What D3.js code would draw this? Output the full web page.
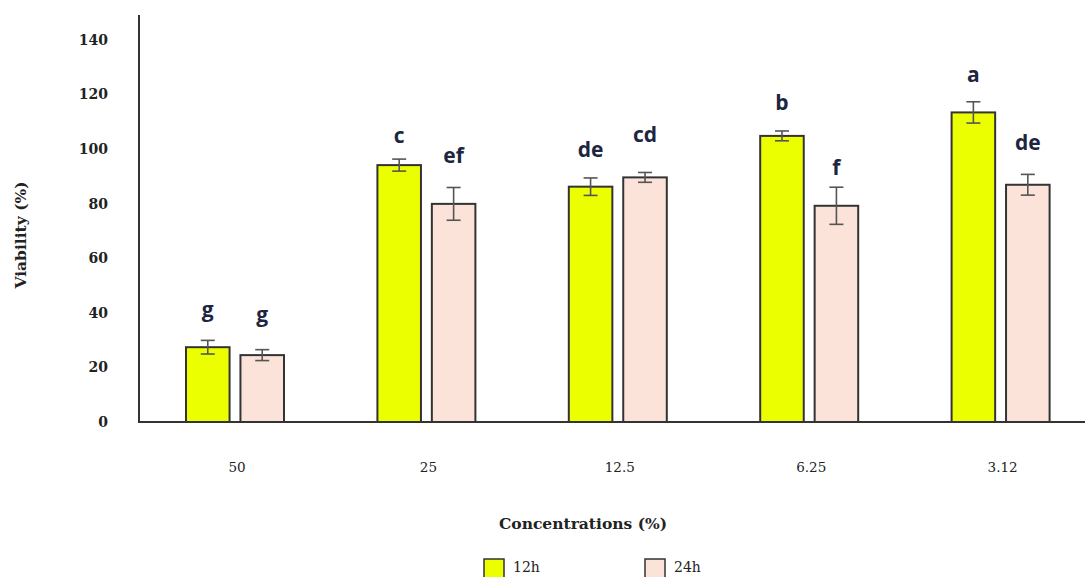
<!DOCTYPE html>
<html>
<head>
<meta charset="utf-8">
<script src="https://cdn.jsdelivr.net/npm/d3@7"></script>
<style>
  html, body { margin: 0; padding: 0; background: #fff; }
  svg { display: block; }
</style>
</head>
<body>
<svg id="chart" width="1085" height="577"></svg>
<script>
// ---- data ----
const categories = ["50", "25", "12.5", "6.25", "3.12"];
const seriesNames = ["12h", "24h"];
const values12h = [27.4, 94.1, 86.2, 104.8, 113.4];
const values24h = [24.5, 79.9, 89.6, 79.2, 86.9];
const errors12h = [2.5, 2.2, 3.2, 1.8, 3.9];
const errors24h = [2.0, 6.0, 1.8, 6.8, 3.8];
const letters12h = ["g", "c", "de", "b", "a"];
const letters24h = ["g", "ef", "cd", "f", "de"];
const letterAt12h = [38.5, 102.2, 97.1, 114.3, 124.5];
const letterAt24h = [36.6, 94.9, 102.6, 90.5, 99.6];
const yTicks = [0, 20, 40, 60, 80, 100, 120, 140];

// ---- layout ----
const svg = d3.select("#chart");
const colors = { "12h": "#ecff00", "24h": "#fbe3da" };
const axisColor = "#333";
const serif = "'DejaVu Serif', 'Liberation Serif', serif";
const sans = "'Open Sans', 'Noto Sans', sans-serif";

const y = d3.scaleLinear().domain([0, 140]).range([422, 39.8]);
const x0 = d3.scaleBand().domain(categories).range([139, 1096.6])
  .paddingInner(0.488).paddingOuter(0.2456);
const x1 = d3.scaleBand().domain(seriesNames).range([0, x0.bandwidth()])
  .paddingInner(0.2);

const rows = categories.map((c, i) => ({
  cat: c,
  items: [
    { s: "12h", v: values12h[i], e: errors12h[i], l: letters12h[i], la: letterAt12h[i] },
    { s: "24h", v: values24h[i], e: errors24h[i], l: letters24h[i], la: letterAt24h[i] }
  ]
}));

// y axis tick labels
const yAxis = d3.axisLeft(y).tickValues(yTicks).tickSize(0).tickPadding(31);
const yg = svg.append("g").attr("transform", "translate(139,0)").call(yAxis);
yg.select(".domain").remove();
yg.selectAll("text").attr("font-family", serif).attr("font-size", 14)
  .attr("font-weight", "bold").attr("fill", "#222");

// bars
const groups = svg.selectAll("g.grp").data(rows).join("g")
  .attr("class", "grp").attr("transform", d => `translate(${x0(d.cat)},0)`);

groups.selectAll("rect").data(d => d.items).join("rect")
  .attr("x", d => x1(d.s)).attr("width", x1.bandwidth())
  .attr("y", d => y(d.v)).attr("height", d => y(0) - y(d.v))
  .attr("fill", d => colors[d.s]).attr("stroke", axisColor).attr("stroke-width", 2);

// error bars
const eb = groups.selectAll("g.err").data(d => d.items).join("g").attr("class", "err")
  .attr("stroke", "#555").attr("stroke-width", 1.6);
eb.append("line")
  .attr("x1", d => x1(d.s) + x1.bandwidth() / 2).attr("x2", d => x1(d.s) + x1.bandwidth() / 2)
  .attr("y1", d => y(d.v + d.e)).attr("y2", d => y(d.v - d.e));
eb.append("line")
  .attr("x1", d => x1(d.s) + x1.bandwidth() / 2 - 7).attr("x2", d => x1(d.s) + x1.bandwidth() / 2 + 7)
  .attr("y1", d => y(d.v + d.e)).attr("y2", d => y(d.v + d.e));
eb.append("line")
  .attr("x1", d => x1(d.s) + x1.bandwidth() / 2 - 7).attr("x2", d => x1(d.s) + x1.bandwidth() / 2 + 7)
  .attr("y1", d => y(d.v - d.e)).attr("y2", d => y(d.v - d.e));

// letters
groups.selectAll("text.letter").data(d => d.items).join("text").attr("class", "letter")
  .attr("x", d => x1(d.s) + x1.bandwidth() / 2).attr("y", d => y(d.la))
  .attr("text-anchor", "middle").attr("font-family", sans).attr("font-weight", "bold")
  .attr("font-size", 21).attr("fill", "#1c2640").text(d => d.l);

// axes lines
svg.append("line").attr("x1", 139).attr("x2", 139).attr("y1", 15).attr("y2", 423)
  .attr("stroke", axisColor).attr("stroke-width", 2);
svg.append("line").attr("x1", 138).attr("x2", 1085).attr("y1", 422).attr("y2", 422)
  .attr("stroke", axisColor).attr("stroke-width", 2);

// category labels
svg.selectAll("text.cat").data(categories).join("text").attr("class", "cat")
  .attr("x", d => x0(d) + x0.bandwidth() / 2 + 2).attr("y", 472)
  .attr("text-anchor", "middle").attr("font-family", serif).attr("font-size", 13.5)
  .attr("fill", "#222").text(d => d);

// axis titles
svg.append("text").attr("transform", "translate(26,235) rotate(-90)")
  .attr("text-anchor", "middle").attr("font-family", serif).attr("font-weight", "bold")
  .attr("font-size", 15.5).attr("fill", "#222").text("Viability (%)");
svg.append("text").attr("x", 583).attr("y", 529)
  .attr("text-anchor", "middle").attr("font-family", serif).attr("font-weight", "bold")
  .attr("font-size", 15.5).attr("fill", "#222").text("Concentrations (%)");

// legend
const legX = [484, 645];
const leg = svg.selectAll("g.leg").data(seriesNames).join("g").attr("class", "leg")
  .attr("transform", (d, i) => `translate(${legX[i]},559)`);
leg.append("rect").attr("width", 20).attr("height", 22)
  .attr("fill", d => colors[d]).attr("stroke", axisColor).attr("stroke-width", 1.5);
leg.append("text").attr("x", 29).attr("y", 13).attr("font-family", serif)
  .attr("font-size", 14).attr("fill", "#222").text(d => d);
</script>
</body>
</html>
